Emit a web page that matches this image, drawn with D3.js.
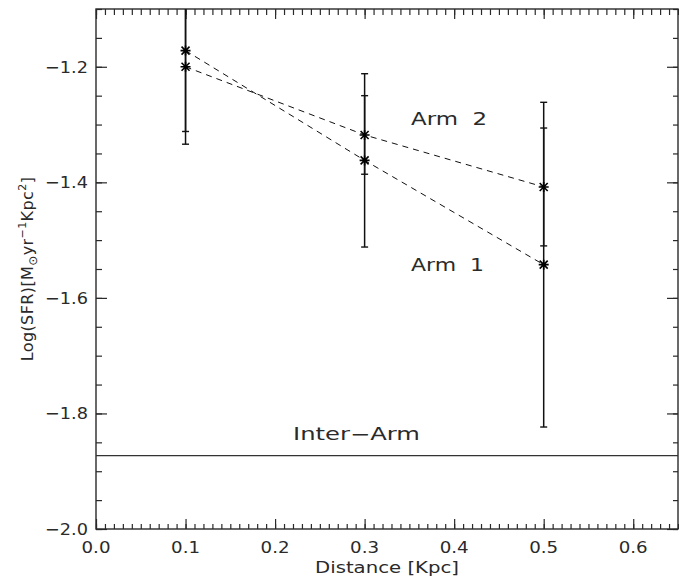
<!DOCTYPE html>
<html>
<head>
<meta charset="utf-8">
<script src="https://cdn.jsdelivr.net/npm/d3@7"></script>
<style>
  body { margin: 0; background: #fff; }
  svg text { font-family: "DejaVu Sans", sans-serif; fill: #2a2a2a; }
</style>
</head>
<body>
<svg id="chart" width="679" height="581"></svg>
<script>
// ---- data ----
const distances = [0.1, 0.3, 0.5];
const arm1 = [-1.172, -1.362, -1.5425];
const arm1Err = [0.14, 0.15, 0.281];
const arm2 = [-1.2, -1.318, -1.408];
const arm2Err = [0.134, 0.068, 0.102];
const interArm = -1.873;
const xMajorTicks = [0.0, 0.1, 0.2, 0.3, 0.4, 0.5, 0.6];
const xTickLabels = ["0.0", "0.1", "0.2", "0.3", "0.4", "0.5", "0.6"];
const yMajorTicks = [-2.0, -1.8, -1.6, -1.4, -1.2];
const yTickLabels = ["\u22122.0", "\u22121.8", "\u22121.6", "\u22121.4", "\u22121.2"];

// ---- layout ----
const L = 96, R = 678, T = 9, B = 529;
const svg = d3.select("#chart");
const x = d3.scaleLinear().domain([0, 0.65]).range([L, R]);
const y = d3.scaleLinear().domain([-2.0, -1.1]).range([B, T]);

const xMinor = d3.range(0, 66).map(i => i / 100);
const yMinor = d3.range(0, 19).map(i => -2.0 + i * 0.05);
const axisColor = "#2a2a2a";

function styleAxis(g) {
  g.select(".domain").remove();
  g.selectAll(".tick line").attr("stroke", axisColor).attr("stroke-width", 1.2);
  g.selectAll(".tick text").remove();
}

// bottom (ticks up)
svg.append("g").attr("transform", `translate(0,${B})`)
  .call(d3.axisTop(x).tickValues(xMinor).tickSize(5).tickFormat("")).call(styleAxis);
svg.append("g").attr("transform", `translate(0,${B})`)
  .call(d3.axisTop(x).tickValues(xMajorTicks).tickSize(10).tickFormat("")).call(styleAxis);
// top (ticks down)
svg.append("g").attr("transform", `translate(0,${T})`)
  .call(d3.axisBottom(x).tickValues(xMinor).tickSize(6).tickFormat("")).call(styleAxis);
svg.append("g").attr("transform", `translate(0,${T})`)
  .call(d3.axisBottom(x).tickValues(xMajorTicks).tickSize(10).tickFormat("")).call(styleAxis);
// left (ticks right)
svg.append("g").attr("transform", `translate(${L},0)`)
  .call(d3.axisRight(y).tickValues(yMinor).tickSize(6).tickFormat("")).call(styleAxis);
svg.append("g").attr("transform", `translate(${L},0)`)
  .call(d3.axisRight(y).tickValues(yMajorTicks).tickSize(11).tickFormat("")).call(styleAxis);
// right (ticks left)
svg.append("g").attr("transform", `translate(${R},0)`)
  .call(d3.axisLeft(y).tickValues(yMinor).tickSize(5).tickFormat("")).call(styleAxis);
svg.append("g").attr("transform", `translate(${R},0)`)
  .call(d3.axisLeft(y).tickValues(yMajorTicks).tickSize(11).tickFormat("")).call(styleAxis);

// frame
svg.append("rect").attr("x", L).attr("y", T).attr("width", R - L).attr("height", B - T)
  .attr("fill", "none").attr("stroke", axisColor).attr("stroke-width", 1.4);

// tick labels
svg.append("g").selectAll("text").data(xMajorTicks).join("text")
  .attr("x", d => x(d)).attr("y", 553).attr("text-anchor", "middle")
  .attr("font-size", 16.5).attr("textLength", 29).attr("lengthAdjust", "spacingAndGlyphs")
  .text((d, i) => xTickLabels[i]);
svg.append("g").selectAll("text").data(yMajorTicks).join("text")
  .attr("x", 45).attr("y", d => y(d)).attr("dy", "0.36em")
  .attr("font-size", 16.5).attr("textLength", 43).attr("lengthAdjust", "spacingAndGlyphs")
  .text((d, i) => yTickLabels[i]);

// axis titles
svg.append("text").attr("x", (L + R) / 2).attr("y", 573).attr("text-anchor", "middle")
  .attr("font-size", 16.5).attr("textLength", 144).attr("lengthAdjust", "spacingAndGlyphs")
  .text("Distance [Kpc]");

const yt = svg.append("text")
  .attr("transform", `translate(33,${(T + B) / 2}) rotate(-90)`)
  .attr("text-anchor", "middle").attr("font-size", 16).attr("letter-spacing", 0.4);
yt.append("tspan").text("Log(SFR)[M");
yt.append("tspan").attr("font-size", 12).attr("dy", 4).text("\u2299");
yt.append("tspan").attr("dy", -4).text("yr");
yt.append("tspan").attr("font-size", 11).attr("dy", -7).text("\u22121");
yt.append("tspan").attr("dy", 7).text("Kpc");
yt.append("tspan").attr("font-size", 11).attr("dy", -7).text("2");
yt.append("tspan").attr("dy", 7).text("]");

// clip
svg.append("clipPath").attr("id", "plotclip").append("rect")
  .attr("x", L).attr("y", T).attr("width", R - L).attr("height", B - T);
const plot = svg.append("g").attr("clip-path", "url(#plotclip)");

// inter-arm line
plot.append("line").attr("x1", x(0)).attr("x2", x(0.65))
  .attr("y1", y(interArm)).attr("y2", y(interArm))
  .attr("stroke", "#333").attr("stroke-width", 1.2);

const series = [
  { vals: arm1, errs: arm1Err },
  { vals: arm2, errs: arm2Err }
];

const line = d3.line().x(d => x(d[0])).y(d => y(d[1]));
series.forEach(s => {
  const pts = distances.map((d, i) => [d, s.vals[i]]);
  plot.append("path").attr("d", line(pts)).attr("fill", "none")
    .attr("stroke", "#111").attr("stroke-width", 1).attr("stroke-dasharray", "6,5");
});

// error bars
series.forEach(s => {
  distances.forEach((d, i) => {
    const cx = x(d), lo = y(s.vals[i] - s.errs[i]), hi = y(s.vals[i] + s.errs[i]);
    plot.append("line").attr("x1", cx).attr("x2", cx).attr("y1", lo).attr("y2", hi)
      .attr("stroke", "#111").attr("stroke-width", 1.5);
    [lo, hi].forEach(yy => plot.append("line")
      .attr("x1", cx - 3.5).attr("x2", cx + 3.5).attr("y1", yy).attr("y2", yy)
      .attr("stroke", "#111").attr("stroke-width", 1.4));
  });
});

// asterisk markers
series.forEach(s => {
  distances.forEach((d, i) => {
    const cx = x(d), cy = y(s.vals[i]), r = 5;
    const p = `M${cx - r},${cy}L${cx + r},${cy}M${cx},${cy - r}L${cx},${cy + r}` +
      `M${cx - r * 0.8},${cy - r * 0.8}L${cx + r * 0.8},${cy + r * 0.8}` +
      `M${cx - r * 0.8},${cy + r * 0.8}L${cx + r * 0.8},${cy - r * 0.8}`;
    plot.append("path").attr("d", p).attr("stroke", "#000").attr("stroke-width", 1.6).attr("fill", "none");
  });
});

// labels
svg.append("text").attr("x", 411).attr("y", 125).attr("font-size", 18)
  .attr("textLength", 76).attr("lengthAdjust", "spacingAndGlyphs")
  .style("white-space", "pre").text("Arm  2");
svg.append("text").attr("x", 411).attr("y", 271).attr("font-size", 18)
  .attr("textLength", 73).attr("lengthAdjust", "spacingAndGlyphs")
  .style("white-space", "pre").text("Arm  1");
svg.append("text").attr("x", 293).attr("y", 440).attr("font-size", 17)
  .attr("textLength", 127).attr("lengthAdjust", "spacingAndGlyphs")
  .text("Inter\u2212Arm");
</script>
</body>
</html>
